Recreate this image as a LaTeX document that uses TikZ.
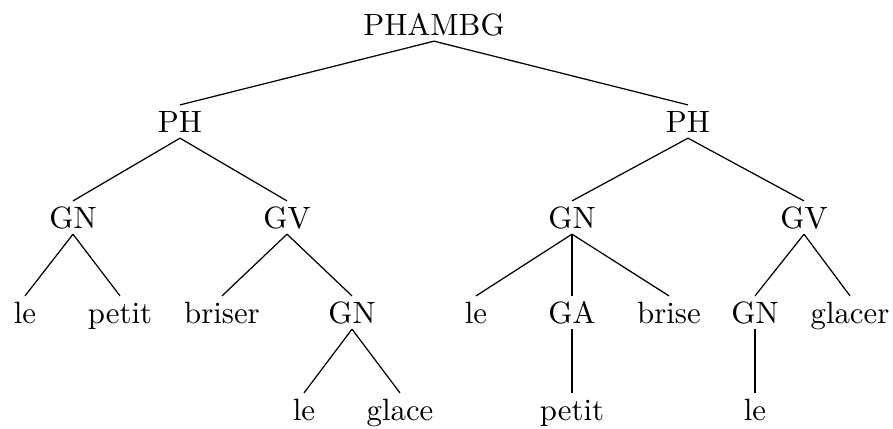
\documentclass[tikz,border=0pt]{standalone}
\begin{document}
\begin{tikzpicture}[x=0.3247pt,y=-0.3247pt,
  tn/.style={anchor=base, inner sep=0pt, text height=8.6pt, text depth=1.8pt},
  edge/.style={draw, line width=0.4pt}]
\useasboundingbox (0,0) rectangle (893,428);
\node[tn] (root) at (434,35) {PHAMBG};
\node[tn] (ph1) at (180,132) {PH};
\node[tn] (ph2) at (688,132) {PH};
\node[tn] (gn1) at (73,228) {GN};
\node[tn] (gv1) at (287,228) {GV};
\node[tn] (gn2) at (572,228) {GN};
\node[tn] (gv2) at (804,228) {GV};
\node[tn] (le1) at (25,323) {le};
\node[tn] (petit1) at (120,323) {petit};
\node[tn] (briser) at (222,323) {briser};
\node[tn] (gn3) at (352,323) {GN};
\node[tn] (le2) at (476,323) {le};
\node[tn] (ga) at (572,323) {GA};
\node[tn] (brise) at (669,323) {brise};
\node[tn] (gn4) at (755,323) {GN};
\node[tn] (glacer) at (850,323) {glacer};
\node[tn] (le3) at (304,420) {le};
\node[tn] (glace) at (400,420) {glace};
\node[tn] (petit2) at (572,420) {petit};
\node[tn] (le4) at (755,420) {le};
\path[edge] (root.south) -- (ph1.north);
\path[edge] (root.south) -- (ph2.north);
\path[edge] (ph1.south) -- (gn1.north);
\path[edge] (ph1.south) -- (gv1.north);
\path[edge] (ph2.south) -- (gn2.north);
\path[edge] (ph2.south) -- (gv2.north);
\path[edge] (gn1.south) -- (le1.north);
\path[edge] (gn1.south) -- (petit1.north);
\path[edge] (gv1.south) -- (briser.north);
\path[edge] (gv1.south) -- (gn3.north);
\path[edge] (gn3.south) -- (le3.north);
\path[edge] (gn3.south) -- (glace.north);
\path[edge] (gn2.south) -- (le2.north);
\path[edge] (gn2.south) -- (ga.north);
\path[edge] (gn2.south) -- (brise.north);
\path[edge] (ga.south) -- (petit2.north);
\path[edge] (gv2.south) -- (gn4.north);
\path[edge] (gv2.south) -- (glacer.north);
\path[edge] (gn4.south) -- (le4.north);
\end{tikzpicture}
\end{document}
